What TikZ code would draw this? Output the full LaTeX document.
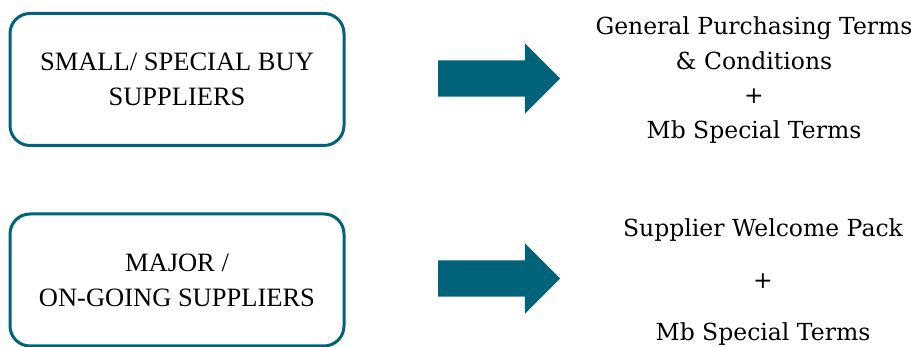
\documentclass[tikz,border=0pt]{standalone}
\usepackage{fontspec}
\usepackage{tikz}
\usetikzlibrary{shapes.arrows}
\setmainfont{Liberation Serif}
\newfontfamily\termsfont{DejaVu Serif}
\definecolor{tealdark}{RGB}{0,99,122}

\begin{document}
\begin{tikzpicture}[x=1pt,y=1pt]
\useasboundingbox (0, 0) rectangle (916, 347);

\begin{scope}[every node/.style={draw=tealdark,line width=3pt,rounded corners=20pt,minimum width=334pt,minimum height=132pt,align=center,font=\fontsize{26.5}{35}\selectfont}]
	%Row 1
	\node (B_1) at (177, 267.5) {SMALL/ SPECIAL BUY\\SUPPLIERS};
	
	%Row 2
	\node (B_2) at (177, 67) {MAJOR /\\ON-GOING SUPPLIERS};
\end{scope}

\begin{scope}[every node/.style={single arrow,fill=tealdark,draw=none,inner xsep=0pt,inner ysep=18pt,minimum height=122pt,minimum width=70pt,single arrow head extend=17pt}]
	%Row 1
	\node (A_1) at (490, 268.5) {};
	
	%Row 2
	\node (A_2) at (490, 68.5) {};
\end{scope}

\begin{scope}[every node/.style={align=center,inner sep=0pt}]
	%Row 1
	\node[font=\termsfont\fontsize{23.5}{34.5}\selectfont] (T_1) at (754, 267) {General Purchasing Terms\\\& Conditions\\+\\Mb Special Terms};
	
	%Row 2
	\node[font=\termsfont\fontsize{23.5}{52}\selectfont] (T_2) at (763, 65) {Supplier Welcome Pack\\+\\Mb Special Terms};
\end{scope}
\end{tikzpicture}
\end{document}
